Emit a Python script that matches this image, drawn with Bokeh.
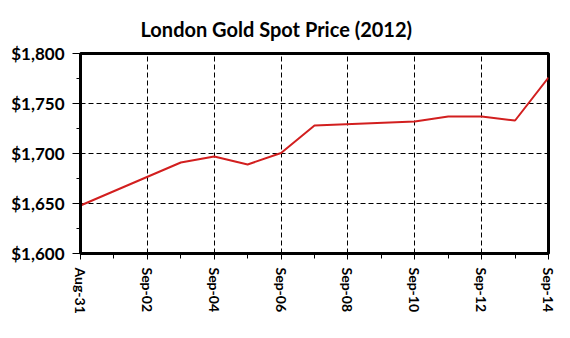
import math
from datetime import datetime
from bokeh.plotting import figure
from bokeh.models import FixedTicker, NumeralTickFormatter, DatetimeTickFormatter, Range1d, Title
from bokeh.embed import file_html
from bokeh.resources import INLINE

dates = ["2012-08-31", "2012-09-03", "2012-09-04", "2012-09-05", "2012-09-06",
         "2012-09-07", "2012-09-10", "2012-09-11", "2012-09-12", "2012-09-13", "2012-09-14"]
prices = [1648, 1691, 1697, 1689, 1700.5, 1728, 1732, 1737, 1737, 1733, 1776]
major_tick_dates = ["2012-08-31", "2012-09-02", "2012-09-04", "2012-09-06",
                    "2012-09-08", "2012-09-10", "2012-09-12", "2012-09-14"]
y_ticks = [1600, 1650, 1700, 1750, 1800]
y_minor = [1625, 1675, 1725, 1775]
title_text = "London Gold Spot Price (2012)"

x = [datetime.strptime(d, "%Y-%m-%d") for d in dates]
def ms(d):
    return datetime.strptime(d, "%Y-%m-%d").timestamp() * 1000
DAY = 86400000
x_major = [ms(d) for d in major_tick_dates]
x_minor = [ms("2012-08-31") + i * DAY for i in range(15)]

FONT = "Lato"
p = figure(width=570, height=338, x_axis_type="datetime", output_backend="svg",
           toolbar_location=None,
           x_range=Range1d(ms("2012-08-31"), ms("2012-09-14")),
           y_range=Range1d(1600, 1800),
           min_border_left=80, min_border_right=22, min_border_top=53, min_border_bottom=85)

p.title = Title(text=title_text, align="left", text_font=FONT,
                text_font_size="20px", text_font_style="bold", text_color="black",
                offset=60, standoff=26)

p.line(x, prices, line_color="#d21f1f", line_width=2)

p.outline_line_color = "black"
p.outline_line_width = 3

p.xaxis.ticker = FixedTicker(ticks=x_major, minor_ticks=x_minor)
p.xaxis.formatter = DatetimeTickFormatter(days="%b-%d", months="%b-%d")
p.xaxis.major_label_orientation = -math.pi / 2
p.yaxis.ticker = FixedTicker(ticks=y_ticks, minor_ticks=y_minor)
p.yaxis.formatter = NumeralTickFormatter(format="$0,0")

for ax in (p.xaxis[0], p.yaxis[0]):
    ax.axis_line_color = "black"
    ax.axis_line_width = 3
    ax.major_tick_line_color = "black"
    ax.minor_tick_line_color = "black"
    ax.major_tick_line_width = 1
    ax.minor_tick_line_width = 1
    ax.major_tick_in = 0
    ax.minor_tick_in = 0
    ax.major_label_text_font = FONT
    ax.major_label_text_font_style = "bold"
    ax.major_label_text_color = "black"
ya = p.yaxis[0]
ya.major_label_text_font_size = "17px"
ya.major_label_standoff = 8
ya.major_tick_out = 8
ya.minor_tick_out = 4
xa = p.xaxis[0]
xa.major_label_text_font_size = "14px"
xa.major_label_standoff = 8
xa.major_tick_out = 6
xa.minor_tick_out = 5

p.xgrid.ticker = FixedTicker(ticks=x_major)
p.ygrid.ticker = FixedTicker(ticks=y_ticks)
for g in (p.xgrid[0], p.ygrid[0]):
    g.grid_line_color = "black"
    g.grid_line_dash = "5 3"
    g.grid_line_width = 1

p.background_fill_color = "white"
p.border_fill_color = "white"

open("out.html", "w").write(file_html(p, INLINE))
